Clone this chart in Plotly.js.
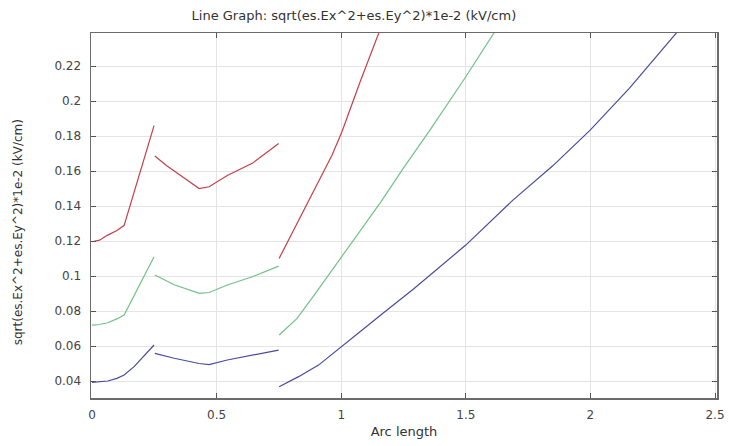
<!DOCTYPE html>
<html>
<head>
<meta charset="utf-8">
<script src="https://cdn.plot.ly/plotly-3.0.1.min.js"></script>
<style>
  html, body { margin: 0; padding: 0; background: #fff; }
  #chart { width: 729px; height: 446px; }
</style>
</head>
<body>
<div id="chart"></div>
<script>
// Field magnitude along the boundary arc, three line groups, each split into
// three boundary segments (null marks the break between segments).
const redArc = [0, 0.03, 0.063, 0.10, 0.129, 0.19, 0.249, null,
                0.252, 0.30, 0.35, 0.40, 0.43, 0.47, 0.543, 0.643, 0.749, null,
                0.751, 0.829, 0.896, 0.963, 1.003, 1.076, 1.153];
const redVal = [0.1196, 0.1205, 0.1234, 0.126, 0.129, 0.158, 0.186, null,
                0.1686, 0.163, 0.158, 0.153, 0.150, 0.151, 0.1575, 0.1644, 0.1758, null,
                0.1101, 0.132, 0.151, 0.169, 0.1825, 0.211, 0.2397];

const greenArc = [0, 0.03, 0.063, 0.10, 0.129, 0.19, 0.249, null,
                  0.252, 0.33, 0.43, 0.47, 0.543, 0.643, 0.749, null,
                  0.751, 0.823, 0.896, 0.963, 1.003, 1.096, 1.16, 1.249, 1.356, 1.5, 1.616];
const greenVal = [0.072, 0.0723, 0.0733, 0.0755, 0.0777, 0.095, 0.111, null,
                  0.1006, 0.095, 0.0901, 0.0906, 0.0949, 0.0996, 0.1057, null,
                  0.0663, 0.0758, 0.090, 0.1034, 0.111, 0.1295, 0.1425, 0.1615, 0.1834, 0.2139, 0.2396];

const blueArc = [0, 0.03, 0.063, 0.10, 0.129, 0.169, 0.249, null,
                 0.252, 0.33, 0.43, 0.47, 0.543, 0.643, 0.749, null,
                 0.751, 0.829, 0.909, 1.003, 1.083, 1.165, 1.289, 1.5, 1.689, 1.849, 1.999, 2.156, 2.349];
const blueVal = [0.0392, 0.0395, 0.040, 0.0415, 0.0434, 0.0482, 0.0606, null,
                 0.0558, 0.053, 0.050, 0.0494, 0.052, 0.0549, 0.0577, null,
                 0.0367, 0.0425, 0.0491, 0.0596, 0.069, 0.0785, 0.0925, 0.1177, 0.1434, 0.163, 0.1834, 0.2073, 0.2396];

const xTicks = [0, 0.5, 1, 1.5, 2, 2.5];
const xTickText = ['0', '0.5', '1', '1.5', '2', '2.5'];
const yTicks = [0.04, 0.06, 0.08, 0.1, 0.12, 0.14, 0.16, 0.18, 0.2, 0.22];
const yTickText = ['0.04', '0.06', '0.08', '0.1', '0.12', '0.14', '0.16', '0.18', '0.2', '0.22'];

const chartTitle = 'Line Graph: sqrt(es.Ex^2+es.Ey^2)*1e-2 (kV/cm)';
const xTitle = 'Arc length';
const yTitle = 'sqrt(es.Ex^2+es.Ey^2)*1e-2 (kV/cm)';

const font = 'DejaVu Sans, sans-serif';

function line(x, y, color) {
  return {
    type: 'scatter', mode: 'lines', x: x, y: y,
    connectgaps: false,
    line: { color: color, width: 1.2 },
    hoverinfo: 'skip', showlegend: false
  };
}

const data = [
  line(blueArc, blueVal, '#4b4b9e'),
  line(greenArc, greenVal, '#72c08a'),
  line(redArc, redVal, '#c43f4a')
];

const axisCommon = {
  showline: true, mirror: 'ticks', linecolor: '#6b6b6b', linewidth: 1.5,
  ticks: 'inside', ticklen: 5, tickcolor: '#555', tickwidth: 1,
  showgrid: true, gridcolor: '#e4e4e4', gridwidth: 1,
  zeroline: false,
  tickfont: { family: font, size: 12, color: '#444' }
};

const layout = {
  width: 729, height: 446,
  margin: { l: 91, r: 12, t: 33, b: 48 },
  paper_bgcolor: '#ffffff', plot_bgcolor: '#ffffff',
  title: {
    text: chartTitle,
    font: { family: font, size: 13, color: '#333' },
    x: 0.42, xref: 'paper', xanchor: 'center',
    y: 0.966, yref: 'container', yanchor: 'middle'
  },
  xaxis: Object.assign({}, axisCommon, {
    range: [-0.004, 2.508],
    tickvals: xTicks, ticktext: xTickText,
    ticklabelstandoff: 5,
    title: { text: xTitle, font: { family: font, size: 13, color: '#333' }, standoff: 6 }
  }),
  yaxis: Object.assign({}, axisCommon, {
    range: [0.0303, 0.2389],
    tickvals: yTicks, ticktext: yTickText,
    ticklabelstandoff: 6
  }),
  // rotated y-axis caption, placed a little below the plot's vertical centre
  annotations: [{
    text: yTitle, textangle: -90,
    xref: 'paper', x: -0.116, xanchor: 'center',
    yref: 'paper', y: 0.455, yanchor: 'middle',
    showarrow: false,
    font: { family: font, size: 12, color: '#333' }
  }]
};

Plotly.newPlot('chart', data, layout, { staticPlot: true, displayModeBar: false });
</script>
</body>
</html>
